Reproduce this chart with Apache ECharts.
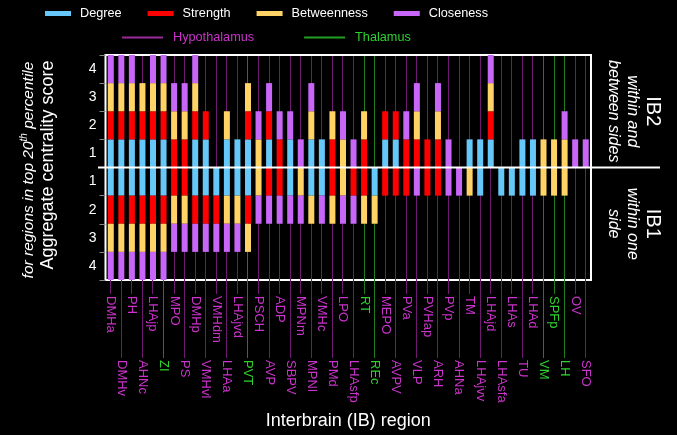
<!DOCTYPE html>
<html><head><meta charset="utf-8">
<script src="https://cdn.jsdelivr.net/npm/echarts@6/dist/echarts.min.js"></script>
<style>html,body{margin:0;padding:0;background:#000}#c{width:677px;height:435px}</style>
</head><body><div id="c"></div>
<script>
// ---- data ----
const categories = ['DMHa','DMHv','PH','AHNc','LHAjp','ZI','MPO','PS','DMHp','VMHvl','VMHdm','LHAa','LHAjvd','PVT','PSCH','AVP','ADP','SBPV','MPNm','MPNl','VMHc','PMd','LPO','LHAsfp','RT','REc','MEPO','AVPV','PVa','VLP','PVHap','ARH','PVp','AHNa','TM','LHAjvv','LHAjd','LHAsfa','LHAs','TU','LHAd','VM','SPFp','LH','OV','SFO'];
const thalamus = ['ZI','PVT','RT','REc','VM','SPFp','LH'];
// IB2: within and between sides (upward)
const ib2Degree      = [1,1,1,1,1,1,0,0,1,1, 0,1,1,1,0,1,0,1,0,1, 1,0,0,0,0,0,1,1,0,0, 0,0,0,0,1,1,1,0,0,1, 1,0,0,0,0,0];
const ib2Strength    = [1,1,1,1,1,1,1,1,1,1, 0,0,0,1,0,1,1,0,0,0, 0,1,0,0,1,0,1,1,1,1, 1,1,0,0,0,0,1,0,0,0, 0,0,0,0,0,0];
const ib2Betweenness = [1,1,1,1,1,1,1,1,1,0, 0,1,0,1,1,0,0,0,0,1, 0,1,1,0,1,0,0,0,0,1, 0,1,0,0,0,0,1,0,0,0, 0,1,1,1,0,0];
const ib2Closeness   = [1,1,1,0,1,1,1,1,1,0, 0,0,0,0,1,1,1,1,1,1, 0,0,1,1,0,0,0,0,1,1, 0,1,1,0,0,0,1,0,0,0, 0,0,0,1,1,1];
// IB1: within one side (downward)
const ib1Degree      = [1,1,1,1,1,1,0,0,1,1, 1,1,1,1,0,0,0,1,0,1, 1,0,0,0,0,1,0,0,0,0, 0,0,0,0,0,1,0,1,1,1, 1,0,0,0,0,0];
const ib1Strength    = [1,1,1,1,1,1,1,1,1,1, 1,0,0,1,0,1,1,0,0,0, 0,1,0,1,1,0,1,1,1,0, 1,1,0,0,0,0,0,0,0,0, 0,0,0,0,0,0];
const ib1Betweenness = [1,1,1,1,1,1,1,1,0,0, 0,1,1,1,1,0,0,0,1,1, 0,1,1,0,1,1,0,0,0,0, 0,0,0,0,1,0,0,0,0,0, 0,1,1,1,0,0];
const ib1Closeness   = [1,1,1,1,1,1,1,1,1,1, 1,1,1,0,1,1,1,1,1,0, 1,0,1,1,0,0,0,0,0,1, 0,0,1,1,0,0,0,0,0,0, 0,0,0,0,0,0];
const yTickLabels = ['4','3','2','1','1','2','3','4'];

// ---- styling ----
const FONT = "'Liberation Sans', Arial, sans-serif";
const colors = {Degree:'#66c8f8', Strength:'#ff0000', Betweenness:'#ffd366', Closeness:'#c866f8'};
const hypoLine = '#6e1a6e', thalLine = '#1e7e1e';
const hypoSwatch = '#9a2a9a', thalSwatch = '#22a022';
const hypoText = '#cc33cc', thalText = '#2ed22e';
const isThalName = n => thalamus.indexOf(n) >= 0;
const isThal = i => isThalName(categories[i]);

function barSeries(name, arr, sign) {
  return {
    name, type:'bar', stack:'all', xAxisIndex:0, yAxisIndex:0, barWidth:6,
    itemStyle:{color:colors[name]}, z:3,
    data: arr.map(v => v ? sign * v : 0)
  };
}
function lineSeries(name, color, thal) {
  const data = [];
  categories.forEach((c, i) => { if (isThal(i) === thal) data.push([i, 0]); });
  return {
    name, type:'custom', xAxisIndex:0, yAxisIndex:0, clip:false, z:1, silent:true,
    itemStyle:{color},
    encode:{x:0, y:1},
    renderItem(params, api) {
      const i = api.value(0);
      const x = Math.round(api.coord([i, 0])[0] - 0.5) + 0.5;
      const yTop = api.coord([i, 4])[1];
      const yBot = api.coord([i, -4])[1];
      const ext = (i % 2 === 0) ? 14 : 78;
      return {type:'line', shape:{x1:x, y1:yTop + 1, x2:x, y2:yBot + ext},
              style:{stroke:color, lineWidth:1}};
    },
    data
  };
}
function legendLine(name, color) {
  return {name, type:'line', data:[], xAxisIndex:0, yAxisIndex:0, showSymbol:false,
          itemStyle:{color}, lineStyle:{color, width:1}};
}

const labelColor = (value) => isThalName(value) ? thalText : hypoText;

const option = {
  backgroundColor:'#000',
  animation:false,
  textStyle:{fontFamily:FONT},
  grid:{left:105.5, right:86, top:55, bottom:153.5, show:true, borderColor:'#fff', borderWidth:2, backgroundColor:'transparent'},
  legend:[{
    data:['Degree','Strength','Betweenness','Closeness'],
    left:45, top:7, padding:0, icon:'rect', itemWidth:26, itemHeight:5, itemGap:26,
    textStyle:{color:'#fff', fontSize:12.7, fontFamily:FONT, padding:[0,0,0,4]}
  },{
    data:[
      {name:'Hypothalamus', textStyle:{color:hypoText}, itemStyle:{color:hypoSwatch, borderColor:hypoSwatch, borderWidth:0, opacity:1}},
      {name:'Thalamus', textStyle:{color:thalText}, itemStyle:{color:thalSwatch, borderColor:thalSwatch, borderWidth:0, opacity:1}}
    ],
    left:122, top:31, padding:0, icon:'rect', itemWidth:41, itemHeight:2, itemGap:50,
    textStyle:{fontSize:12.7, fontFamily:FONT, padding:[0,0,0,5]}
  }],
  xAxis:[{
    type:'category', data:categories, position:'bottom',
    axisLine:{show:false}, axisTick:{show:false}, splitLine:{show:false},
    axisLabel:{interval:(i) => i % 2 === 0, rotate:-90, margin:16, fontSize:13, color:labelColor, fontFamily:FONT},
    name:'Interbrain (IB) region', nameLocation:'middle', nameGap:132,
    nameTextStyle:{color:'#fff', fontSize:18, fontFamily:FONT}
  },{
    type:'category', data:categories, position:'bottom',
    axisLine:{show:false}, axisTick:{show:false}, splitLine:{show:false},
    axisLabel:{interval:(i) => i % 2 === 1, rotate:-90, margin:80, fontSize:13, color:labelColor, fontFamily:FONT}
  }],
  yAxis:[{
    type:'value', min:-4, max:4, interval:1, position:'left',
    axisLine:{show:false}, splitLine:{show:false},
    axisTick:{show:true, length:6, lineStyle:{color:'#888', width:1}},
    axisLabel:{show:false}
  },{
    type:'category', data:yTickLabels, position:'left',
    axisLine:{show:false}, axisTick:{show:false}, splitLine:{show:false},
    axisLabel:{color:'#fff', fontSize:14, margin:9, fontFamily:FONT}
  }],
  series:[
    barSeries('Degree', ib2Degree, 1),
    barSeries('Strength', ib2Strength, 1),
    barSeries('Betweenness', ib2Betweenness, 1),
    barSeries('Closeness', ib2Closeness, 1),
    barSeries('Degree', ib1Degree, -1),
    barSeries('Strength', ib1Strength, -1),
    barSeries('Betweenness', ib1Betweenness, -1),
    barSeries('Closeness', ib1Closeness, -1),
    legendLine('Hypothalamus', hypoSwatch),
    legendLine('Thalamus', thalSwatch),
    lineSeries('hypothalamus-lines', hypoLine, false),
    lineSeries('thalamus-lines', thalLine, true)
  ]
};

const chart = echarts.init(document.getElementById('c'), null, {renderer:'canvas'});
chart.setOption(option);

const y0 = chart.convertToPixel({yAxisIndex:0}, 0);
const yUp = chart.convertToPixel({yAxisIndex:0}, 2);
const yDn = chart.convertToPixel({yAxisIndex:0}, -2);
chart.setOption({
  graphic:[
    {type:'line', z:10, shape:{x1:98, y1:y0, x2:660, y2:y0}, style:{stroke:'#fff', lineWidth:2}},
    {type:'text', x:634, y:yUp, rotation:-Math.PI/2, z:10,
     style:{text:'{a|IB2}\n{b|within and}\n{b|between sides}', align:'center', verticalAlign:'middle', fill:'#fff',
       rich:{a:{fontSize:20, lineHeight:22, fontFamily:FONT, fill:'#fff', align:'center'},
             b:{fontSize:16, lineHeight:19, fontStyle:'italic', fontFamily:FONT, fill:'#fff', align:'center'}}}},
    {type:'text', x:634, y:yDn, rotation:-Math.PI/2, z:10,
     style:{text:'{a|IB1}\n{b|within one}\n{b|side}', align:'center', verticalAlign:'middle', fill:'#fff',
       rich:{a:{fontSize:20, lineHeight:22, fontFamily:FONT, fill:'#fff', align:'center'},
             b:{fontSize:16, lineHeight:19, fontStyle:'italic', fontFamily:FONT, fill:'#fff', align:'center'}}}},
    {type:'text', x:48, y:165, rotation:Math.PI/2, z:10,
     style:{text:'Aggregate centrality score', align:'center', verticalAlign:'middle', fill:'#fff', fontSize:18, fontFamily:FONT}},
    {type:'text', x:28, y:170, rotation:Math.PI/2, z:10,
     style:{text:'{i|for regions in top 20}{s|th}{i| percentile}', align:'center', verticalAlign:'middle', fill:'#fff',
       rich:{i:{fontSize:15.5, fontStyle:'italic', fontFamily:FONT, fill:'#fff', lineHeight:18, verticalAlign:'bottom'},
             s:{fontSize:10, fontStyle:'italic', fontFamily:FONT, fill:'#fff', lineHeight:18, verticalAlign:'top'}}}}
  ]
});
</script></body></html>
